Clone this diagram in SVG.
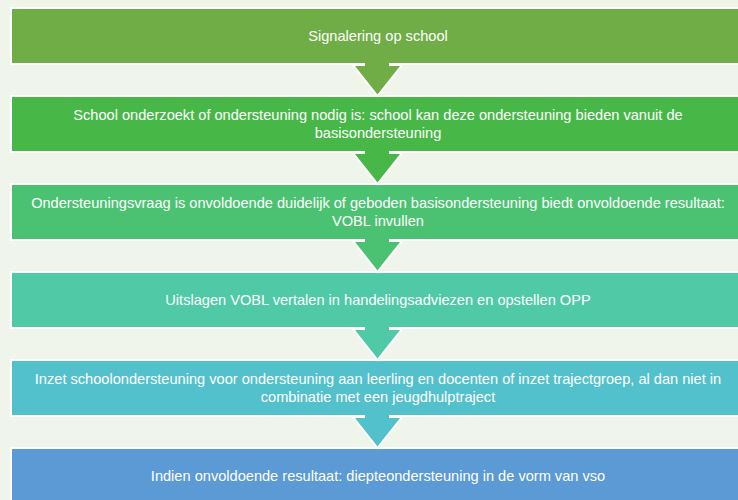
<svg xmlns="http://www.w3.org/2000/svg" width="738" height="500" viewBox="0 0 738 500">
<style>
.box{stroke:#FFFFFF;stroke-width:2}
.arr{stroke:#FFFFFF;stroke-width:2}
.t{font-family:"Liberation Sans",Arial,sans-serif;font-size:14.6px;fill:#FFFFFF;text-anchor:middle}
</style>
<rect x="0" y="0" width="738" height="500" fill="#EFF5EB"/>
<g id="node1"><rect class="box" x="11" y="8" width="735" height="56" fill="#70AD47"/><text class="t" x="378" y="41">Signalering op school</text></g>
<g id="node2"><rect class="box" x="11" y="96" width="735" height="56" fill="#47B847"/><text class="t" x="378" y="120">School onderzoekt of ondersteuning nodig is: school kan deze ondersteuning bieden vanuit de</text><text class="t" x="378" y="138">basisondersteuning</text></g>
<g id="node3"><rect class="box" x="11" y="184" width="735" height="56" fill="#4BC271"/><text class="t" x="378" y="208">Ondersteuningsvraag is onvoldoende duidelijk of geboden basisondersteuning biedt onvoldoende resultaat:</text><text class="t" x="378" y="226">VOBL invullen</text></g>
<g id="node4"><rect class="box" x="11" y="272" width="735" height="56" fill="#4FC9A6"/><text class="t" x="378" y="305">Uitslagen VOBL vertalen in handelingsadviezen en opstellen OPP</text></g>
<g id="node5"><rect class="box" x="11" y="360" width="735" height="56" fill="#53C1CC"/><text class="t" x="378" y="384">Inzet schoolondersteuning voor ondersteuning aan leerling en docenten of inzet trajectgroep, al dan niet in</text><text class="t" x="378" y="402">combinatie met een jeugdhulptraject</text></g>
<g id="node6"><rect class="box" x="11" y="448" width="735" height="60" fill="#5B9AD5"/><text class="t" x="378" y="481">Indien onvoldoende resultaat: diepteondersteuning in de vorm van vso</text></g>
<g id="connectors">
<path class="arr" fill="#70AD47" d="M364,63 V65 H353 L377.5,96 L402,65 H390 V63"/>
<path class="arr" fill="#47B847" d="M364,151 V153 H353 L377.5,184 L402,153 H390 V151"/>
<path class="arr" fill="#4BC271" d="M364,239 V241 H353 L377.5,272 L402,241 H390 V239"/>
<path class="arr" fill="#4FC9A6" d="M364,327 V329 H353 L377.5,360 L402,329 H390 V327"/>
<path class="arr" fill="#53C1CC" d="M364,415 V417 H353 L377.5,448 L402,417 H390 V415"/>
</g>
</svg>
